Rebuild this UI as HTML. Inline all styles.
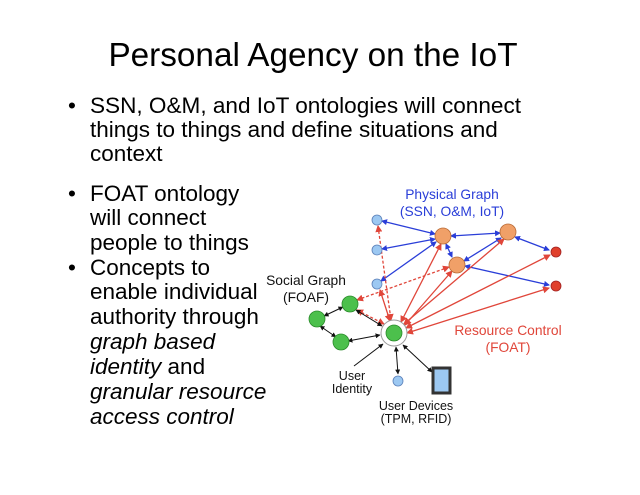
<!DOCTYPE html>
<html><head><meta charset="utf-8"><style>
html,body{margin:0;padding:0;background:#fff;}
svg{display:block;font-family:"Liberation Sans",Arial,sans-serif;}
</style></head><body>
<svg width="640" height="495" viewBox="0 0 640 495" xmlns="http://www.w3.org/2000/svg">
<defs>
<marker id="ab" markerWidth="6" markerHeight="6" refX="5" refY="3" orient="auto-start-reverse" markerUnits="userSpaceOnUse"><path d="M0,0 L6,3 L0,6 z" fill="#2a3ed8"/></marker>
<marker id="ar" markerWidth="7" markerHeight="7" refX="6" refY="3.5" orient="auto-start-reverse" markerUnits="userSpaceOnUse"><path d="M0,0 L7,3.5 L0,7 z" fill="#e0463a"/></marker>
<marker id="ak" markerWidth="5" markerHeight="5" refX="4.5" refY="2.5" orient="auto-start-reverse" markerUnits="userSpaceOnUse"><path d="M0,0 L5,2.5 L0,5 z" fill="#111"/></marker>
</defs>
<text x="313" y="66" font-size="33.3" text-anchor="middle" fill="#000">Personal Agency on the IoT</text>
<g font-size="22.5" fill="#000">
<text x="68" y="113">•</text>
<text x="90" y="113" textLength="431" lengthAdjust="spacingAndGlyphs">SSN, O&amp;M, and IoT ontologies will connect</text>
<text x="90" y="137">things to things and define situations and</text>
<text x="90" y="161">context</text>
<text x="68" y="201">•</text>
<text x="90" y="201">FOAT ontology</text>
<text x="90" y="225">will connect</text>
<text x="90" y="250">people to things</text>
<text x="68" y="275">•</text>
<text x="90" y="275">Concepts to</text>
<text x="90" y="299">enable individual</text>
<text x="90" y="324">authority through</text>
<text x="90" y="349" font-style="italic">graph based</text>
<text x="90" y="374"><tspan font-style="italic">identity</tspan> and</text>
<text x="90" y="399" font-style="italic">granular resource</text>
<text x="90" y="424" font-style="italic">access control</text>
</g>
<g stroke="#2a3ed8" stroke-width="1.3" fill="none" marker-start="url(#ab)" marker-end="url(#ab)">
<line x1="382" y1="221" x2="435" y2="234"/>
<line x1="382" y1="249" x2="435" y2="239"/>
<line x1="381" y1="281" x2="436" y2="242"/>
<line x1="451" y1="236" x2="500" y2="233"/>
<line x1="446" y1="244" x2="452" y2="257"/>
<line x1="464" y1="261" x2="501" y2="238"/>
<line x1="515" y1="237" x2="549" y2="250"/>
<line x1="465" y1="266" x2="549" y2="285"/>
</g>
<g stroke="#e0463a" stroke-width="1.3" fill="none" marker-start="url(#ar)" marker-end="url(#ar)">
<line x1="441" y1="244" x2="401" y2="322"/>
<line x1="504" y1="239" x2="404" y2="324"/>
<line x1="550" y1="255" x2="406" y2="328"/>
<line x1="549" y1="288" x2="407" y2="333"/>
<line x1="452" y1="271" x2="405" y2="325"/>
<line x1="380" y1="290" x2="390" y2="321"/>
</g>
<g stroke="#e0463a" stroke-width="1.3" fill="none" stroke-dasharray="3,2" marker-start="url(#ar)" marker-end="url(#ar)">
<line x1="378" y1="226" x2="391" y2="320"/>
<line x1="449" y1="267" x2="357" y2="300"/>
<line x1="357" y1="310" x2="384" y2="324"/>
</g>
<g stroke="#111" stroke-width="1" fill="none" marker-start="url(#ak)" marker-end="url(#ak)">
<line x1="324" y1="316" x2="343" y2="307"/>
<line x1="320" y1="326" x2="336" y2="337"/>
<line x1="348" y1="341" x2="380" y2="335"/>
<line x1="356" y1="310" x2="382" y2="326"/>
<line x1="396" y1="347" x2="398" y2="374"/>
<line x1="403" y1="345" x2="432" y2="372"/>
</g>
<line x1="354" y1="366" x2="383" y2="344" stroke="#111" stroke-width="1" marker-end="url(#ak)"/>
<g stroke="#5a7fb8" stroke-width="0.8" fill="#9cc8f2">
<circle cx="377" cy="220" r="5"/><circle cx="377" cy="250" r="5"/><circle cx="377" cy="284" r="5"/><circle cx="398" cy="381" r="5"/>
</g>
<g stroke="#b86a36" stroke-width="0.8" fill="#f0a068">
<circle cx="443" cy="236" r="8"/><circle cx="508" cy="232" r="8"/><circle cx="457" cy="265" r="8"/>
</g>
<g stroke="#a02020" stroke-width="0.8" fill="#e0402c">
<circle cx="556" cy="252" r="5"/><circle cx="556" cy="286" r="5"/>
</g>
<g stroke="#2a8a2a" stroke-width="0.8" fill="#4cc04c">
<circle cx="350" cy="304" r="8"/><circle cx="317" cy="319" r="8"/><circle cx="341" cy="342" r="8"/>
</g>
<circle cx="394" cy="333" r="13" fill="#fff" stroke="#999" stroke-width="1"/>
<circle cx="394" cy="333" r="8" fill="#4cc04c" stroke="#2a8a2a" stroke-width="0.8"/>
<rect x="433" y="368" width="17" height="25" fill="#9cc8f2" stroke="#333" stroke-width="3"/>
<g font-size="13.8" text-anchor="middle">
<text x="452" y="199" fill="#2a3ed8">Physical Graph</text>
<text x="452" y="216" fill="#2a3ed8">(SSN, O&amp;M, IoT)</text>
<text x="306" y="285" fill="#111">Social Graph</text>
<text x="306" y="302" fill="#111">(FOAF)</text>
<text x="508" y="335" fill="#e0463a">Resource Control</text>
<text x="508" y="352" fill="#e0463a">(FOAT)</text>
<text x="416" y="410" fill="#111" font-size="12.5">User Devices</text>
<text x="416" y="423" fill="#111" font-size="12.5">(TPM, RFID)</text>
<text x="352" y="380" fill="#111" font-size="12.5">User</text>
<text x="352" y="393" fill="#111" font-size="12.5">Identity</text>
</g>
</svg>
</body></html>
